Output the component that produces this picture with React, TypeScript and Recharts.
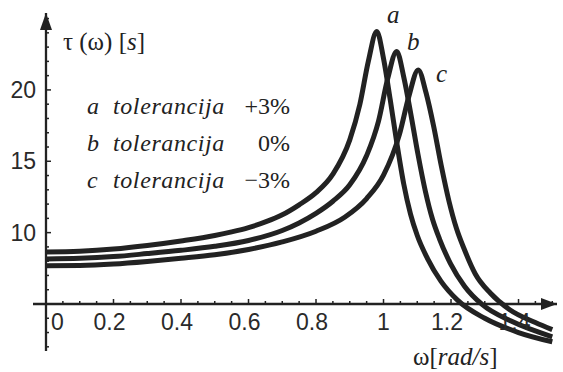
import { LineChart, Line, XAxis, YAxis, ReferenceLine, ReferenceDot } from 'recharts'

// tolerancija +3%
const aX = [0, 0.1, 0.2, 0.3, 0.4, 0.5, 0.55, 0.6, 0.65, 0.7, 0.75, 0.8, 0.85, 0.9, 0.93, 0.955, 0.98, 1.0, 1.02, 1.04, 1.06, 1.08, 1.1, 1.13, 1.17, 1.22, 1.3, 1.4, 1.5]
const aY = [8.65, 8.7, 8.85, 9.1, 9.42, 9.8, 10.05, 10.35, 10.75, 11.25, 11.95, 12.8, 14.1, 16.5, 19.0, 22.0, 24.1, 22.2, 19.3, 16.2, 13.4, 11.3, 9.8, 8.2, 6.6, 5.25, 4.0, 3.0, 2.35]
// tolerancija 0%
const bX = [0, 0.1, 0.2, 0.3, 0.4, 0.5, 0.6, 0.7, 0.75, 0.8, 0.85, 0.9, 0.95, 0.985, 1.012, 1.039, 1.06, 1.081, 1.102, 1.124, 1.145, 1.166, 1.198, 1.24, 1.293, 1.378, 1.5]
const bY = [8.16, 8.2, 8.32, 8.53, 8.76, 9.04, 9.45, 10.15, 10.68, 11.35, 12.2, 13.35, 15.4, 17.8, 20.75, 22.7, 20.9, 18.3, 15.5, 12.9, 10.95, 9.55, 7.85, 6.25, 4.95, 3.8, 2.7]
// tolerancija -3%
const cX = [0, 0.1, 0.2, 0.3, 0.4, 0.5, 0.6, 0.7, 0.8, 0.886, 0.95, 1.0, 1.047, 1.075, 1.103, 1.126, 1.149, 1.171, 1.194, 1.216, 1.239, 1.272, 1.317, 1.374, 1.45, 1.5]
const cY = [7.68, 7.7, 7.8, 7.98, 8.2, 8.45, 8.82, 9.35, 10.1, 11.1, 12.39, 14.03, 16.87, 19.54, 21.4, 19.8, 17.4, 14.7, 12.2, 10.3, 8.85, 7.1, 5.75, 4.6, 3.7, 3.2]

const xMajor = [0.2, 0.4, 0.6, 0.8, 1, 1.2, 1.4]
const xLabels = ['0', '0.2', '0.4', '0.6', '0.8', '1', '1.2', '1.4']
const xLabelAt = [0, 0.2, 0.4, 0.6, 0.8, 1, 1.2, 1.4]
const yMajor = [10, 15, 20]
const yLabels = ['10', '15', '20']

const legendNames = ['a', 'b', 'c']
const legendTol = ['+3%', '0%', '\u22123%']

const xMinor = Array.from({ length: 30 }, (_, i) => +(0.05 * (i + 1)).toFixed(2)).filter(v => !xMajor.includes(v))
const yMinor = Array.from({ length: 24 }, (_, i) => i + 2).filter(v => !yMajor.includes(v) && v !== 5)

const toPts = (xs: number[], ys: number[]) => xs.map((x, i) => ({ x, y: ys[i] }))

const INK = '#222'
const sans = { fontFamily: "'Liberation Sans', Arial, Helvetica, sans-serif" }
const serif = { fontFamily: "'Liberation Serif', 'DejaVu Serif', 'Times New Roman', serif" }
const serifIt = { ...serif, fontStyle: 'italic' as const }

export default function App() {
  const xDomain: [number, number] = [-0.0385, 1.514]
  const yDomain: [number, number] = [1.706, 25.39]
  return (
    <div style={{ position: 'absolute', left: 0, top: 0, width: 563, height: 372, background: '#fff' }}>
      <LineChart width={563} height={372} margin={{ left: 33, right: 6, top: 13, bottom: 21 }}>
        <XAxis type="number" dataKey="x" domain={xDomain} allowDataOverflow hide />
        <YAxis type="number" dataKey="y" domain={yDomain} allowDataOverflow hide />
        <ReferenceLine y={5} stroke={INK} strokeWidth={2.3} />
        <ReferenceLine x={0} stroke={INK} strokeWidth={2.3} />
        {xMinor.map(t => (
          <ReferenceDot key={'xm' + t} x={t} y={5} ifOverflow="visible"
            shape={(p: any) => <line x1={p.cx} x2={p.cx} y1={p.cy} y2={p.cy - 3} stroke={INK} strokeWidth={1.5} />} />
        ))}
        {xMajor.map(t => (
          <ReferenceDot key={'xM' + t} x={t} y={5} ifOverflow="visible"
            shape={(p: any) => <line x1={p.cx} x2={p.cx} y1={p.cy} y2={p.cy - 5} stroke={INK} strokeWidth={1.5} />} />
        ))}
        {xLabelAt.map((t, i) => (
          <ReferenceDot key={'xl' + t} x={t} y={5} ifOverflow="visible"
            shape={(p: any) => (
              <text x={t === 0 ? p.cx + 5 : p.cx + (t === 1 ? 0 : -4)} y={p.cy + 26} textAnchor={t === 0 ? 'start' : 'middle'}
                style={sans} fontSize={23} fill="#2a2a2a">{xLabels[i]}</text>
            )} />
        ))}
        {yMinor.map(t => (
          <ReferenceDot key={'ym' + t} x={0} y={t} ifOverflow="visible"
            shape={(p: any) => <line x1={p.cx} x2={p.cx + 3} y1={p.cy} y2={p.cy} stroke={INK} strokeWidth={1.5} />} />
        ))}
        {yMajor.map((t, i) => (
          <ReferenceDot key={'yM' + t} x={0} y={t} ifOverflow="visible"
            shape={(p: any) => (
              <g>
                <line x1={p.cx} x2={p.cx + 5} y1={p.cy} y2={p.cy} stroke={INK} strokeWidth={1.5} />
                <text x={p.cx - 10} y={p.cy + 8} textAnchor="end" style={sans} fontSize={23} fill="#2a2a2a">{yLabels[i]}</text>
              </g>
            )} />
        ))}
        <Line data={toPts(aX, aY)} dataKey="y" type="monotone" stroke={INK} strokeWidth={5} dot={false} isAnimationActive={false} />
        <Line data={toPts(bX, bY)} dataKey="y" type="monotone" stroke={INK} strokeWidth={5} dot={false} isAnimationActive={false} />
        <Line data={toPts(cX, cY)} dataKey="y" type="monotone" stroke={INK} strokeWidth={5} dot={false} isAnimationActive={false} />
        <ReferenceDot x={xDomain[1]} y={5} ifOverflow="visible"
          shape={(p: any) => <polygon points={`${p.cx},${p.cy} ${p.cx - 16},${p.cy - 6} ${p.cx - 16},${p.cy + 6}`} fill={INK} />} />
        <ReferenceDot x={0} y={yDomain[1]} ifOverflow="visible"
          shape={(p: any) => <polygon points={`${p.cx},${p.cy} ${p.cx - 6},${p.cy + 17} ${p.cx + 6},${p.cy + 17}`} fill={INK} />} />
      </LineChart>
      <svg width={563} height={372} style={{ position: 'absolute', left: 0, top: 0, pointerEvents: 'none' }}>
        <text x={63} y={50} style={serif} fontSize={25} fill={INK}>
          {'\u03c4 (\u03c9) ['}<tspan style={serifIt}>s</tspan>]
        </text>
        <text x={413} y={365} style={serif} fontSize={25} fill={INK}>
          {'\u03c9['}<tspan style={serifIt}>rad/s</tspan>]
        </text>
        <text x={387} y={23} style={serifIt} fontSize={25} fill={INK}>a</text>
        <text x={407} y={50} style={serifIt} fontSize={25} fill={INK}>b</text>
        <text x={436} y={82} style={serifIt} fontSize={25} fill={INK}>c</text>
        {legendNames.map((n, i) => (
          <g key={n}>
            <text x={87} y={114 + 37 * i} style={serifIt} fontSize={24} fill={INK}>{n}</text>
            <text x={113} y={114 + 37 * i} style={serifIt} fontSize={24} letterSpacing={0.6} fill={INK}>tolerancija</text>
            <text x={290} y={114 + 37 * i} textAnchor="end" style={serif} fontSize={24} fill={INK}>{legendTol[i]}</text>
          </g>
        ))}
      </svg>
    </div>
  )
}
